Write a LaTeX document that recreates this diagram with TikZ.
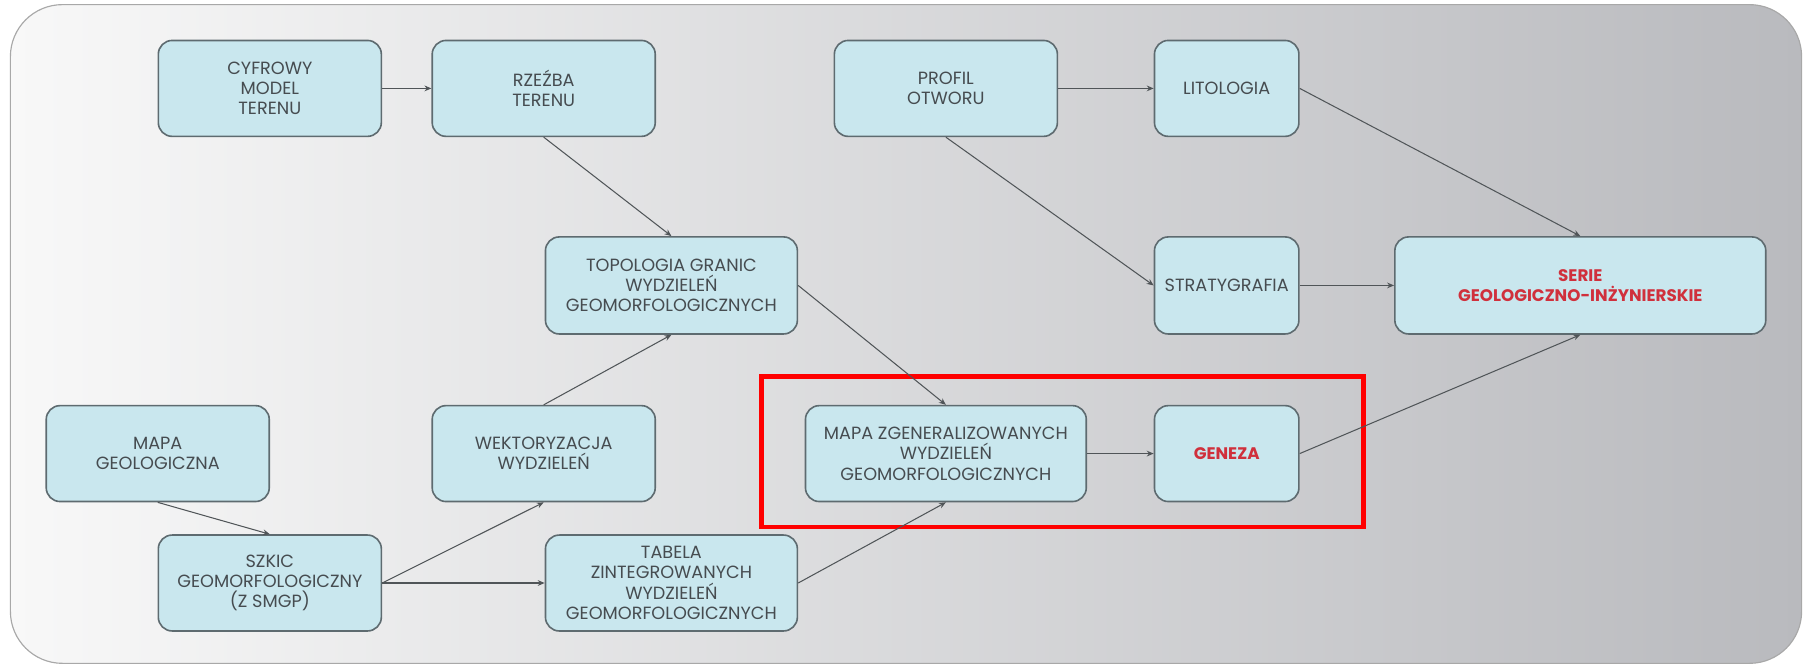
\documentclass[tikz,border=0pt]{standalone}
\usepackage{fontspec}
\setmainfont{Poppins}
\usetikzlibrary{arrows.meta}
\definecolor{boxfill}{HTML}{C9E7EE}
\definecolor{boxline}{HTML}{5E6B70}
\definecolor{txt}{HTML}{464C50}
\definecolor{redtxt}{HTML}{D0303C}
\definecolor{bgleft}{HTML}{F8F8F8}
\definecolor{bgright}{HTML}{B9BABE}
\definecolor{bgline}{HTML}{A8A8A8}
\definecolor{conn}{HTML}{505558}
\newcommand{\redlbl}[1]{\textcolor{redtxt}{\fontsize{14.5}{17.5}\selectfont\bfseries #1}}
\tikzset{
  stepbox/.style={draw=boxline, fill=boxfill, line width=1.4pt, rounded corners=12pt,
    align=center, text=txt, inner sep=2pt,
    font=\fontsize{15.3}{17.6}\selectfont},
  conna/.style={draw=conn, line width=0.9pt, -{Stealth[length=6pt,width=5pt]}},
}
\begin{document}
\begin{tikzpicture}[x=1pt,y=-1pt]
\useasboundingbox (0,0) rectangle (1568,576);
\shade[left color=bgleft, right color=bgright, draw=bgline, line width=1pt, rounded corners=45pt]
  (9,4) rectangle (1559,574);
% boxes
\node[stepbox, minimum width=193pt, minimum height=83pt] (cmt) at (233.5,76.5) {CYFROWY\\MODEL\\TERENU};
\node[stepbox, minimum width=193pt, minimum height=83pt] (rzb) at (470.5,76.5) {RZEŹBA\\TERENU};
\node[stepbox, minimum width=193pt, minimum height=83pt] (prof) at (818.5,76.5) {PROFIL\\OTWORU};
\node[stepbox, minimum width=125pt, minimum height=83pt] (lit) at (1061.5,76.5) {LITOLOGIA};
\node[stepbox, minimum width=218pt, minimum height=84pt] (top) at (581,247) {TOPOLOGIA GRANIC\\WYDZIELEŃ\\GEOMORFOLOGICZNYCH};
\node[stepbox, minimum width=125pt, minimum height=84pt] (str) at (1061.5,247) {STRATYGRAFIA};
\node[stepbox, minimum width=321pt, minimum height=84pt] (ser) at (1367.5,247) {\redlbl{SERIE}\\\redlbl{GEOLOGICZNO-INŻYNIERSKIE}};
\node[stepbox, minimum width=193pt, minimum height=83pt] (mg) at (136.5,392.5) {MAPA\\GEOLOGICZNA};
\node[stepbox, minimum width=193pt, minimum height=83pt] (wek) at (470.5,392.5) {WEKTORYZACJA\\WYDZIELEŃ};
\node[stepbox, minimum width=243pt, minimum height=83pt] (mzg) at (818.5,392.5) {MAPA ZGENERALIZOWANYCH\\WYDZIELEŃ\\GEOMORFOLOGICZNYCH};
\node[stepbox, minimum width=125pt, minimum height=83pt] (gen) at (1061.5,392.5) {\redlbl{GENEZA}};
\node[stepbox, minimum width=193pt, minimum height=83pt] (szk) at (233.5,504.5) {SZKIC\\GEOMORFOLOGICZNY\\(Z SMGP)};
\node[stepbox, minimum width=218pt, minimum height=83pt] (tab) at (581,504.5) {TABELA\\ZINTEGROWANYCH\\WYDZIELEŃ\\GEOMORFOLOGICZNYCH};
% highlight frame
\node[draw=red, line width=4pt, minimum width=521pt, minimum height=130pt, inner sep=0pt] (frame) at (919.5,391) {};
% connectors
\draw[conna] (cmt.east) -- (rzb.west);
\draw[conna] (rzb.south) -- (top.north);
\draw[conna] (wek.north) -- (top.south);
\draw[conna] (mg.south) -- (szk.north);
\draw[conna] (szk.east) -- (wek.south);
\draw[conna] (szk.east) -- (tab.west);
\draw[conna] (tab.east) -- (mzg.south);
\draw[conna] (top.east) -- (mzg.north);
\draw[conna] (mzg.east) -- (gen.west);
\draw[conna] (gen.east) -- (ser.south);
\draw[conna] (prof.east) -- (lit.west);
\draw[conna] (prof.south) -- (str.west);
\draw[conna] (lit.east) -- (ser.north);
\draw[conna] (str.east) -- (ser.west);
\end{tikzpicture}
\end{document}
